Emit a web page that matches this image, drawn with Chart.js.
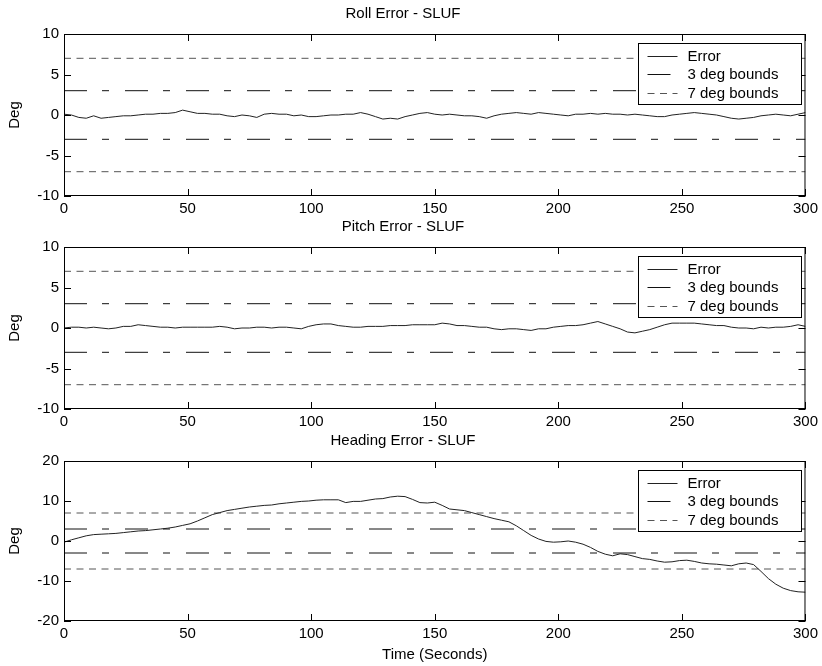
<!DOCTYPE html>
<html>
<head>
<meta charset="utf-8">
<script src="https://cdn.jsdelivr.net/npm/chart.js@4.4.1/dist/chart.umd.min.js"></script>
<style>
	body { margin: 0; background: #fff; }
	#wrap { position: relative; width: 822px; height: 666px; overflow: hidden; }
	#wrap canvas { position: absolute; left: 0; }
</style>
</head>
<body>
<div id="wrap">
	<canvas id="rollChart"></canvas>
	<canvas id="pitchChart"></canvas>
	<canvas id="headingChart"></canvas>
</div>
<script>
// sample times (seconds)
const time = [
	0, 3, 6, 9, 12, 15, 18, 21, 24, 27,
	30, 33, 36, 39, 42, 45, 48, 51, 54, 57,
	60, 63, 66, 69, 72, 75, 78, 81, 84, 87,
	90, 93, 96, 99, 102, 105, 108, 111, 114, 117,
	120, 123, 126, 129, 132, 135, 138, 141, 144, 147,
	150, 153, 156, 159, 162, 165, 168, 171, 174, 177,
	180, 183, 186, 189, 192, 195, 198, 201, 204, 207,
	210, 213, 216, 219, 222, 225, 228, 231, 234, 237,
	240, 243, 246, 249, 252, 255, 258, 261, 264, 267,
	270, 273, 276, 279, 282, 285, 288, 291, 294, 297,
	300,
];
const rollError = [
	0.1, 0.0, -0.3, -0.4, -0.1, -0.4, -0.3, -0.2, -0.1, -0.1,
	0.0, 0.1, 0.1, 0.2, 0.2, 0.3, 0.6, 0.4, 0.2, 0.2,
	0.1, 0.1, -0.1, -0.2, 0.0, -0.1, -0.3, 0.1, 0.2, 0.1,
	0.1, -0.1, 0.0, -0.2, -0.2, -0.1, 0.0, 0.0, 0.1, 0.1,
	0.3, 0.1, -0.2, -0.5, -0.4, -0.5, -0.2, 0.0, 0.2, 0.3,
	0.1, 0.0, 0.1, 0.0, -0.1, -0.1, -0.2, -0.4, -0.1, 0.1,
	0.2, 0.3, 0.2, 0.1, 0.3, 0.2, 0.1, 0.0, -0.1, 0.1,
	0.1, 0.2, 0.1, 0.2, 0.1, 0.1, 0.0, 0.1, 0.0, -0.1,
	-0.2, -0.2, 0.0, 0.1, 0.2, 0.3, 0.2, 0.1, 0.0, -0.2,
	-0.4, -0.5, -0.4, -0.3, -0.1, 0.0, 0.1, 0.0, -0.1, 0.1,
	0.3,
];
const pitchError = [
	0.0, 0.1, 0.1, 0.0, 0.1, 0.0, -0.1, 0.0, 0.2, 0.2,
	0.4, 0.3, 0.2, 0.1, 0.1, 0.0, 0.1, 0.1, 0.1, 0.1,
	0.1, 0.2, 0.1, -0.1, 0.0, 0.0, 0.1, 0.1, 0.0, 0.1,
	0.1, 0.0, -0.1, 0.2, 0.4, 0.5, 0.5, 0.3, 0.2, 0.1,
	0.1, 0.2, 0.2, 0.2, 0.3, 0.3, 0.3, 0.4, 0.4, 0.4,
	0.4, 0.6, 0.5, 0.3, 0.3, 0.2, 0.1, 0.1, -0.1, -0.2,
	-0.1, -0.1, -0.2, -0.3, -0.1, -0.1, 0.1, 0.2, 0.3, 0.3,
	0.4, 0.6, 0.8, 0.5, 0.2, -0.1, -0.5, -0.6, -0.4, -0.2,
	0.1, 0.4, 0.6, 0.6, 0.6, 0.6, 0.5, 0.4, 0.3, 0.3,
	0.1, 0.0, 0.0, -0.1, 0.1, 0.0, 0.1, 0.1, 0.2, 0.4,
	0.2,
];
const headingError = [
	-0.3, 0.3, 0.8, 1.3, 1.6, 1.7, 1.8, 1.9, 2.1, 2.3,
	2.5, 2.6, 2.8, 3.0, 3.2, 3.5, 3.9, 4.3, 5.0, 5.8,
	6.6, 7.1, 7.6, 7.9, 8.2, 8.5, 8.7, 8.9, 9.0, 9.3,
	9.5, 9.7, 9.9, 10.0, 10.2, 10.3, 10.3, 10.3, 9.6, 9.9,
	9.9, 10.2, 10.5, 10.6, 11.0, 11.2, 11.1, 10.4, 9.6, 9.5,
	9.7, 8.9, 8.0, 7.8, 7.6, 7.1, 6.6, 6.1, 5.6, 5.2,
	4.8, 3.8, 2.6, 1.4, 0.5, -0.1, -0.3, -0.2, 0.0, -0.3,
	-0.8, -1.6, -2.6, -3.3, -3.7, -3.2, -3.4, -3.9, -4.4, -4.6,
	-5.0, -5.3, -5.2, -4.9, -4.8, -5.1, -5.5, -5.7, -5.8, -6.0,
	-6.2, -5.7, -5.5, -5.9, -7.6, -9.4, -10.8, -11.8, -12.4, -12.7,
	-12.8,
];
const timeRange = [0, 300];
const bounds3 = [3, -3];
const bounds7 = [7, -7];
const xTicks = [0, 50, 100, 150, 200, 250, 300];
const attitudeTicks = [-10, -5, 0, 5, 10];
const headingTicks = [-20, -10, 0, 10, 20];

const FONT = "'Liberation Sans', Arial, sans-serif";
const TICK_LEN = 7;

const subplots = [
	{ element: "rollChart", title: "Roll Error - SLUF", values: rollError, yTicks: attitudeTicks, top: 34, bottom: 196, below: 28, xTitle: "" },
	{ element: "pitchChart", title: "Pitch Error - SLUF", values: pitchError, yTicks: attitudeTicks, top: 247, bottom: 409, below: 28, xTitle: "" },
	{ element: "headingChart", title: "Heading Error - SLUF", values: headingError, yTicks: headingTicks, top: 461, bottom: 621, below: 45, xTitle: "Time (Seconds)" },
];

// box, inward ticks and the legend, matlab style
const matlabFrame = {
	id: "matlabFrame",
	afterDraw(chart) {
		const { ctx, chartArea: a, scales } = chart;
		ctx.save();
		ctx.strokeStyle = "#000";
		ctx.lineWidth = 1;
		ctx.setLineDash([]);
		ctx.strokeRect(a.left + 0.5, a.top + 0.5, a.right - a.left - 1, a.bottom - a.top - 1);
		ctx.beginPath();
		scales.x.ticks.forEach((t) => {
			const px = Math.round(scales.x.getPixelForValue(t.value)) + 0.5;
			ctx.moveTo(px, a.bottom);
			ctx.lineTo(px, a.bottom - TICK_LEN);
			ctx.moveTo(px, a.top);
			ctx.lineTo(px, a.top + TICK_LEN);
		});
		scales.y.ticks.forEach((t) => {
			const py = Math.round(scales.y.getPixelForValue(t.value)) + 0.5;
			ctx.moveTo(a.left, py);
			ctx.lineTo(a.left + TICK_LEN, py);
			ctx.moveTo(a.right, py);
			ctx.lineTo(a.right - TICK_LEN, py);
		});
		ctx.stroke();

		// legend
		const seen = [];
		chart.data.datasets.forEach((ds) => {
			if (!seen.find((s) => s.label === ds.label)) seen.push(ds);
		});
		const w = 163;
		const h = 61;
		const x0 = Math.round(a.right - 4 - w) + 0.5;
		const y0 = Math.round(a.top + 9) + 0.5;
		ctx.fillStyle = "#fff";
		ctx.fillRect(x0, y0, w, h);
		ctx.strokeStyle = "#000";
		ctx.strokeRect(x0, y0, w, h);
		ctx.font = "15px " + FONT;
		ctx.textBaseline = "middle";
		seen.forEach((ds, i) => {
			const ry = Math.round(y0 + 12 + i * 18.5) + 0.5;
			ctx.strokeStyle = ds.borderColor;
			ctx.setLineDash(ds.borderDash || []);
			ctx.beginPath();
			ctx.moveTo(x0 + 9, ry);
			ctx.lineTo(x0 + 39, ry);
			ctx.stroke();
			ctx.fillStyle = "#000";
			ctx.fillText(ds.label, x0 + 49, ry);
		});
		ctx.restore();
	},
};

function flatLine(level) {
	return timeRange.map((t) => ({ x: t, y: level }));
}

function buildChart(info) {
	const canvas = document.getElementById(info.element);
	const height = info.bottom - info.top + 34 + info.below;
	canvas.width = 822;
	canvas.height = height;
	canvas.style.top = info.top - 34 + "px";
	canvas.style.width = "822px";
	canvas.style.height = height + "px";

	const datasets = [
		{
			label: "Error",
			data: time.map((t, i) => ({ x: t, y: info.values[i] })),
			borderColor: "#222",
			borderWidth: 1,
		},
	];
	bounds3.forEach((b) => {
		datasets.push({ label: "3 deg bounds", data: flatLine(b), borderColor: "#111", borderWidth: 1, borderDash: [23, 15, 7, 16] });
	});
	bounds7.forEach((b) => {
		datasets.push({ label: "7 deg bounds", data: flatLine(b), borderColor: "#555", borderWidth: 1, borderDash: [7, 5.5] });
	});
	datasets.forEach((ds) => {
		ds.pointRadius = 0;
		ds.fill = false;
		ds.tension = 0;
	});

	const yt = info.yTicks;
	return new Chart(canvas, {
		type: "line",
		data: { datasets },
		options: {
			responsive: false,
			animation: false,
			layout: { padding: { top: 0, left: 0, right: 16, bottom: 0 } },
			plugins: {
				legend: { display: false },
				tooltip: { enabled: false },
				title: {
					display: true,
					text: info.title,
					color: "#000",
					font: { family: FONT, size: 15, weight: "normal" },
					padding: { top: 5, bottom: 11 },
				},
			},
			scales: {
				x: {
					type: "linear",
					min: timeRange[0],
					max: timeRange[1],
					afterBuildTicks: (s) => { s.ticks = xTicks.map((v) => ({ value: v })); },
					afterFit: (s) => { s.height = info.below; },
					grid: { display: false, drawTicks: false },
					border: { display: false },
					ticks: { color: "#000", padding: 4, maxRotation: 0, font: { family: FONT, size: 15 } },
					title: {
						display: info.xTitle !== "",
						text: info.xTitle,
						color: "#000",
						font: { family: FONT, size: 15 },
						padding: { top: 2, bottom: 2 },
					},
				},
				y: {
					type: "linear",
					min: yt[0],
					max: yt[yt.length - 1],
					afterBuildTicks: (s) => { s.ticks = yt.map((v) => ({ value: v })); },
					afterFit: (s) => { s.width = 64; },
					grid: { display: false, drawTicks: false },
					border: { display: false },
					ticks: { color: "#000", padding: 5, font: { family: FONT, size: 15 } },
					title: {
						display: true,
						text: "Deg",
						color: "#000",
						font: { family: FONT, size: 15 },
						padding: { top: 6, bottom: 6 },
					},
				},
			},
		},
		plugins: [matlabFrame],
	});
}

subplots.forEach((info) => buildChart(info));
</script>
</body>
</html>
